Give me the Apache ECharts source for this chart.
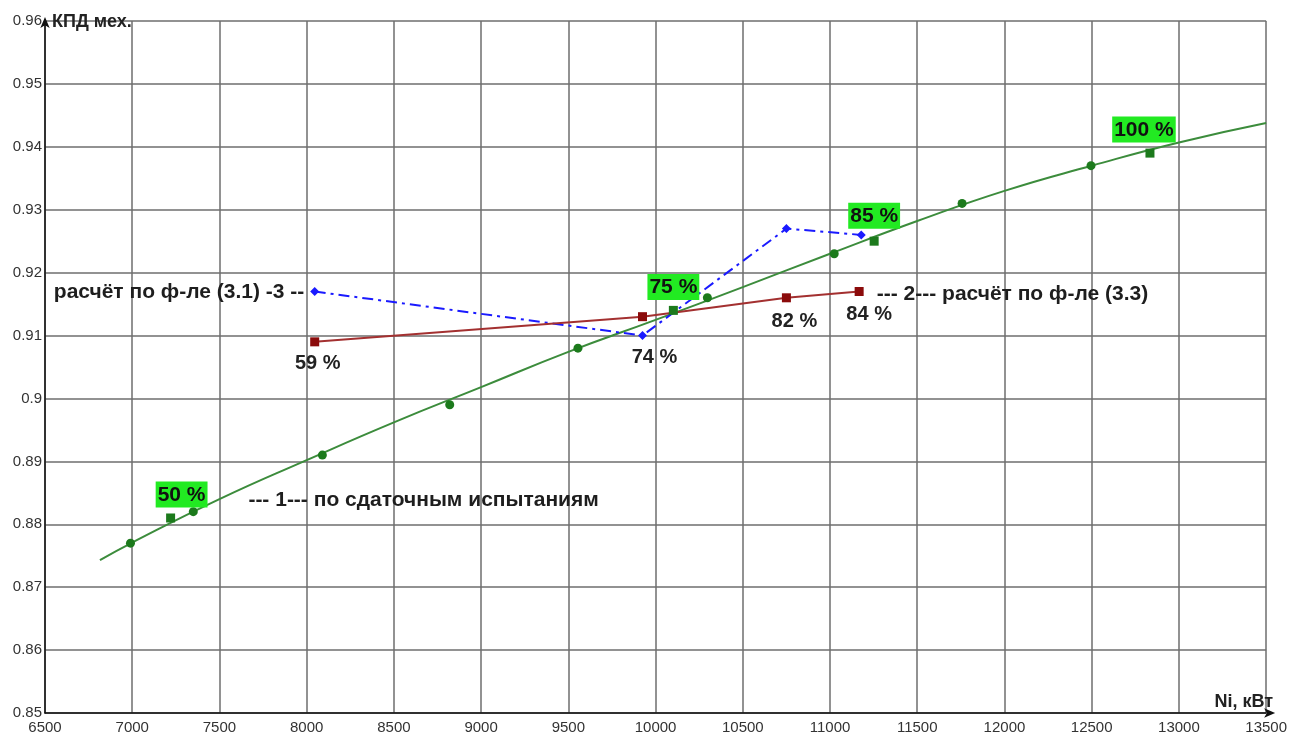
<!DOCTYPE html>
<html>
<head>
<meta charset="utf-8">
<title>КПД мех.</title>
<script src="https://cdn.jsdelivr.net/npm/echarts@6/dist/echarts.min.js"></script>
<style>
  html, body { margin: 0; padding: 0; background: #fff; }
  #chart { width: 1290px; height: 736px; }
</style>
</head>
<body>
<div id="chart"></div>
<script>
// Axis ranges and ticks
const xMin = 6500, xMax = 13500, xStep = 500;
const yMin = 0.85, yMax = 0.96, yStep = 0.01;

// 1 — acceptance test points (circles) and the fitted curve through them
const testX = [6990, 7350, 8090, 8820, 9555, 10297, 11024, 11757, 12496];
const testY = [0.877, 0.882, 0.891, 0.899, 0.908, 0.916, 0.923, 0.931, 0.937];

// load levels on the acceptance tests (squares with green tags)
const loadX = [7220, 10102, 11253, 12834];
const loadY = [0.881, 0.914, 0.925, 0.939];
const loadTags = ['50 %', '75 %', '85 %', '100 %'];

// fitted curve for series 1
const fitX = [6815, 7000, 7500, 8000, 8500, 9000, 9500, 10000, 10500, 11000, 11500, 12000, 12500, 13000, 13500];
const fitY = [0.8743, 0.8771, 0.8840, 0.8902, 0.8962, 0.9018, 0.9074, 0.9125, 0.9177, 0.9230, 0.9282, 0.9330, 0.9370, 0.9407, 0.9438];

// 2 — calculation by formula (3.3)
const f33X = [8046, 9925, 10750, 11167];
const f33Y = [0.909, 0.913, 0.916, 0.917];
const f33Tags = ['59 %', '74 %', '82 %', '84 %'];

// 3 — calculation by formula (3.1)
const f31X = [8046, 9925, 10750, 11179];
const f31Y = [0.917, 0.910, 0.927, 0.926];

// captions placed in data coordinates
const noteText = ['расчёт по ф-ле (3.1) -3 --', '--- 2--- расчёт по ф-ле (3.3)', '--- 1--- по сдаточным испытаниям'];
const noteX = [7989, 11265, 7663];
const noteY = [0.9169, 0.9166, 0.8839];
const noteSide = ['left', 'right', 'right'];

const FONT = "'Liberation Sans', Arial, sans-serif";
const zip = (xs, ys) => xs.map((x, i) => [x, ys[i]]);

const tagOffsets = [[11, 0], [0, 0], [0, -2], [-6, 0]];
const pctOffsets = [[3, 2], [12, 21], [8, 4], [10, 3]];

const chart = echarts.init(document.getElementById('chart'), null, { renderer: 'canvas' });

chart.setOption({
  backgroundColor: '#ffffff',
  animation: false,
  grid: { left: 45, right: 22, top: 21, bottom: 23 },
  xAxis: {
    type: 'value', min: xMin, max: xMax, interval: xStep,
    name: 'Ni, кВт', nameLocation: 'end', nameGap: 7,
    nameTextStyle: { fontFamily: FONT, fontSize: 18, fontWeight: 'bold', color: '#222', align: 'right', verticalAlign: 'bottom', padding: [0, 0, 2, 0] },
    axisLine: { lineStyle: { color: '#111', width: 1.5 }, symbol: ['none', 'arrow'], symbolSize: [7, 11], symbolOffset: [0, 9] },
    axisTick: { show: false },
    axisLabel: { fontFamily: FONT, fontSize: 15, color: '#333', margin: 7, formatter: v => String(v) },
    splitLine: { show: true, lineStyle: { color: '#6e6e6e', width: 1.5 } }
  },
  yAxis: {
    type: 'value', min: yMin, max: yMax, interval: yStep,
    name: 'КПД мех.', nameLocation: 'end', nameGap: -1,
    nameTextStyle: { fontFamily: FONT, fontSize: 18, fontWeight: 'bold', color: '#222', align: 'left', verticalAlign: 'middle', padding: [0, 0, 0, 7] },
    axisLine: { show: true, lineStyle: { color: '#111', width: 1.5 }, symbol: ['none', 'arrow'], symbolSize: [7, 11], symbolOffset: [0, 4] },
    axisTick: { show: false },
    axisLabel: { fontFamily: FONT, fontSize: 15, color: '#333', margin: 3, formatter: v => String(+v.toFixed(2)) },
    splitLine: { show: true, lineStyle: { color: '#6e6e6e', width: 1.5 } }
  },
  series: [
    {
      name: 'fit-1', type: 'line', data: zip(fitX, fitY), smooth: true, showSymbol: false,
      lineStyle: { color: '#3c8c3c', width: 2 }, z: 3,
      markPoint: {
        symbol: 'circle', symbolSize: 1, itemStyle: { color: 'rgba(0,0,0,0)' },
        data: noteText.map((t, i) => ({
          coord: [noteX[i], noteY[i]],
          label: { show: true, formatter: t, position: noteSide[i], distance: 0, fontFamily: FONT, fontSize: 21, fontWeight: 'bold', color: '#1e1e1e' }
        }))
      }
    },
    {
      name: 'f31', type: 'line', data: zip(f31X, f31Y), symbol: 'diamond', symbolSize: 9,
      lineStyle: { color: '#1a1aff', width: 2, type: [11, 5, 3, 5] },
      itemStyle: { color: '#1a1aff' }, z: 4
    },
    {
      name: 'f33', type: 'line', data: zip(f33X, f33Y).map((p, i) => ({
        value: p,
        label: { show: true, formatter: f33Tags[i], position: 'bottom', distance: 5, offset: pctOffsets[i], fontFamily: FONT, fontSize: 20, fontWeight: 'bold', color: '#222' }
      })),
      symbol: 'rect', symbolSize: 9,
      lineStyle: { color: '#a33030', width: 2 },
      itemStyle: { color: '#8b0b0b' }, z: 5
    },
    {
      name: 'tests-1', type: 'scatter', data: zip(testX, testY), symbol: 'circle', symbolSize: 9,
      itemStyle: { color: '#1c7a1c', opacity: 1 }, z: 6
    },
    {
      name: 'loads-1', type: 'scatter', data: zip(loadX, loadY).map((p, i) => ({
        value: p,
        label: {
          show: true, formatter: loadTags[i], position: 'top', distance: 6, offset: tagOffsets[i],
          fontFamily: FONT, fontSize: 21, fontWeight: 'bold', color: '#111',
          backgroundColor: '#22ea22', padding: [3, 2, 2, 2]
        }
      })),
      symbol: 'rect', symbolSize: 9,
      itemStyle: { color: '#1c7a1c', opacity: 1 }, z: 7
    }
  ]
});
</script>
</body>
</html>
